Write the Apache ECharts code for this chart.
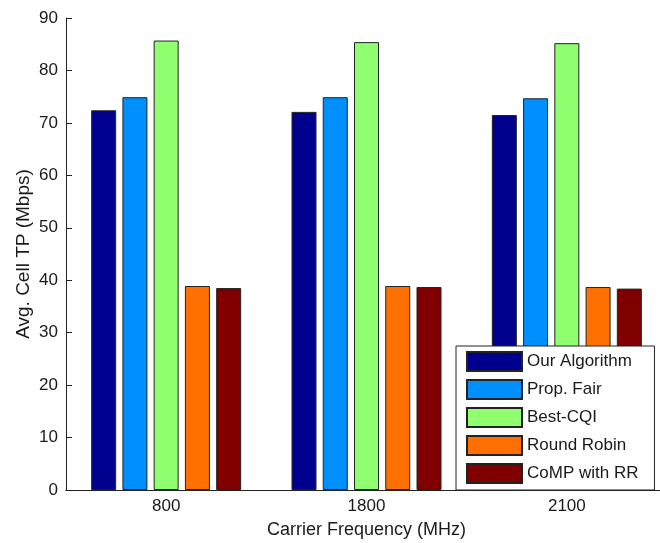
<!DOCTYPE html>
<html>
<head>
<meta charset="utf-8">
<script src="https://cdn.jsdelivr.net/npm/echarts@6/dist/echarts.min.js"></script>
<style>html,body{margin:0;padding:0;background:#fff}#c{width:660px;height:543px}</style>
</head>
<body>
<div id="c"></div>
<script>
const categories = ['800', '1800', '2100'];
const seriesNames = ['Our Algorithm', 'Prop. Fair', 'Best-CQI', 'Round Robin', 'CoMP with RR'];
const ourAlgorithm = [72.4, 72.1, 71.5];
const propFair = [74.9, 74.9, 74.7];
const bestCQI = [85.7, 85.4, 85.2];
const roundRobin = [38.9, 38.9, 38.7];
const compWithRR = [38.5, 38.7, 38.4];
const colors = ['#00008F', '#008FFF', '#8FFF70', '#FF7000', '#800000'];

const values = [ourAlgorithm, propFair, bestCQI, roundRobin, compWithRR];
const font = 'Liberation Sans, Arial, sans-serif';
const txt = '#1a1a1a';

const chart = echarts.init(document.getElementById('c'));
chart.setOption({
  animation: false,
  backgroundColor: '#fff',
  grid: { left: 66, top: 18, width: 601, height: 472, outerBoundsMode: 'none', containLabel: false },
  legend: {
    orient: 'vertical',
    left: 456, top: 346,
    padding: [5, 16, 6, 10],
    itemWidth: 55, itemHeight: 19, itemGap: 7,
    icon: 'rect',
    backgroundColor: '#fff',
    borderColor: '#222', borderWidth: 1,
    textStyle: { fontFamily: font, fontSize: 17, color: txt },
    data: seriesNames
  },
  xAxis: [{
    type: 'category', data: categories,
    axisLine: { lineStyle: { color: '#222', width: 1 } },
    axisTick: { inside: true, alignWithLabel: true, length: 6, lineStyle: { color: '#222' } },
    axisLabel: { fontFamily: font, fontSize: 17, color: txt, margin: 8 },
    name: 'Carrier Frequency (MHz)', nameLocation: 'middle', nameGap: 31,
    nameMoveOverlap: false,
    nameTextStyle: { fontFamily: font, fontSize: 18, color: txt }
  }, {
    type: 'category', data: categories, position: 'top',
    axisLine: { lineStyle: { color: '#222', width: 1 } },
    axisTick: { inside: true, alignWithLabel: true, length: 6, lineStyle: { color: '#222' } },
    axisLabel: { show: false }
  }],
  yAxis: [{
    type: 'value', min: 0, max: 90, interval: 10,
    splitLine: { show: false },
    axisLine: { show: true, lineStyle: { color: '#222', width: 1 } },
    axisTick: { show: true, inside: true, length: 6, lineStyle: { color: '#222' } },
    axisLabel: { fontFamily: font, fontSize: 17, color: txt, margin: 8 },
    name: 'Avg. Cell TP (Mbps)', nameLocation: 'middle', nameGap: 33,
    nameMoveOverlap: false,
    nameTextStyle: { fontFamily: font, fontSize: 19, color: txt }
  }, {
    type: 'value', min: 0, max: 90, interval: 10, position: 'right',
    splitLine: { show: false },
    axisLine: { show: true, lineStyle: { color: '#222', width: 1 } },
    axisTick: { show: true, inside: true, length: 6, lineStyle: { color: '#222' } },
    axisLabel: { show: false }
  }],
  series: seriesNames.map((n, i) => ({
    name: n, type: 'bar', data: values[i],
    barWidth: 25, barGap: '25%',
    itemStyle: { color: colors[i], borderColor: '#222', borderWidth: 1 }
  }))
});
</script>
</body>
</html>
